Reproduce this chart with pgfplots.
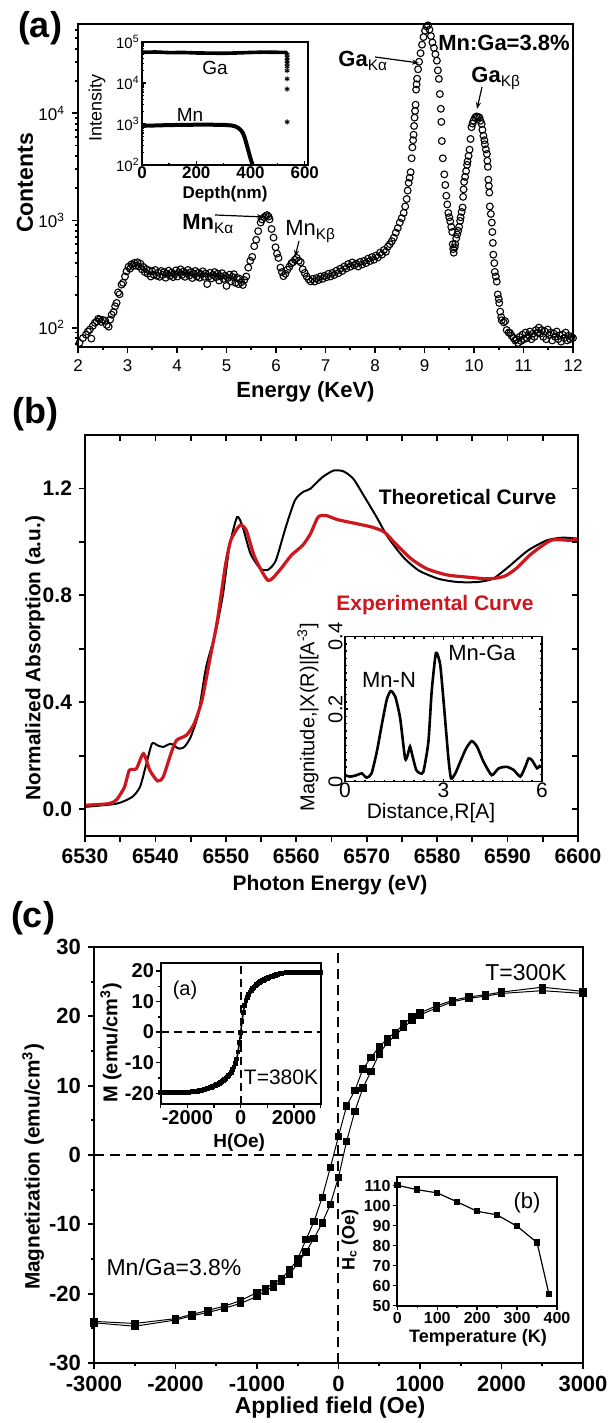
\documentclass[border=0pt]{standalone}
\usepackage{fontspec}
\setmainfont{Liberation Sans}
\usepackage{pgfplots}
\usepackage{pgfplotstable}
\pgfplotsset{compat=1.18}
\usetikzlibrary{arrows.meta}
\definecolor{expred}{RGB}{205,22,30}
\newcommand{\fs}[1]{\fontsize{#1}{#1}\selectfont}
\pgfplotsset{
  base/.style={scale only axis, anchor=south west, clip=true, tick align=outside,
    xtick pos=left, ytick pos=left, axis line style={line width=1.4pt},
    major tick length=3pt, minor tick length=1.7pt,
    tick style={line width=0.9pt, black}},
  inset/.style={base, axis line style={line width=0.9pt}, axis background/.style={fill=white},
    major tick length=2.2pt, minor tick length=1.2pt, tick style={line width=0.7pt, black}}
}
\pgfplotstableread{
E C
2.03 72
2.10 80
2.16 86
2.20 92
2.24 96
2.27 79
2.30 104
2.34 111
2.38 114
2.41 121
2.44 119
2.47 113
2.50 118
2.55 116
2.58 106
2.62 102
2.65 119
2.68 132
2.72 140
2.75 158
2.78 170
2.81 213
2.84 205
2.88 252
2.91 262
2.95 300
2.98 335
3.02 370
3.05 355
3.08 390
3.11 375
3.14 402
3.17 380
3.20 407
3.23 372
3.26 395
3.29 350
3.32 368
3.35 330
3.38 352
3.41 318
3.44 340
3.47 300
3.50 335
3.53 312
3.56 345
3.59 305
3.62 325
3.65 298
3.68 338
3.71 310
3.74 330
3.77 292
3.80 318
3.83 340
3.86 305
3.89 326
3.92 296
3.95 315
3.98 342
4.01 300
4.04 328
4.07 350
4.10 310
4.13 334
4.16 298
4.19 322
4.22 345
4.25 305
4.28 330
4.31 290
4.34 318
4.37 338
4.40 300
4.43 325
4.46 292
4.49 315
4.52 335
4.55 298
4.58 320
4.61 255
4.64 300
4.67 325
4.70 288
4.73 310
4.76 330
4.79 296
4.82 318
4.85 275
4.88 302
4.91 322
4.94 285
4.97 305
5.00 245
5.03 290
5.06 312
5.09 270
5.12 298
5.15 315
5.18 262
5.21 292
5.24 255
5.27 285
5.30 265
5.33 250
5.36 278
5.40 300
5.44 363
5.48 420
5.52 457
5.56 575
5.60 660
5.64 794
5.69 955
5.72 1020
5.76 1070
5.79 1100
5.82 1120
5.85 1085
5.87 1023
5.91 832
5.95 692
5.99 562
6.02 490
6.05 447
6.09 363
6.12 330
6.15 302
6.19 318
6.23 347
6.27 370
6.31 398
6.34 407
6.38 430
6.42 447
6.46 420
6.50 407
6.54 350
6.58 324
6.62 300
6.66 282
6.70 270
6.74 285
6.78 269
6.82 290
6.86 278
6.90 300
6.94 285
6.98 305
7.02 295
7.06 318
7.10 300
7.14 325
7.18 310
7.22 340
7.26 322
7.30 355
7.34 338
7.38 372
7.42 356
7.46 392
7.50 370
7.54 405
7.58 382
7.62 395
7.66 372
7.70 410
7.74 388
7.78 420
7.82 400
7.86 440
7.90 418
7.94 455
7.98 430
8.02 470
8.06 452
8.10 500
8.14 480
8.18 530
8.22 510
8.26 570
8.30 600
8.34 640
8.38 690
8.42 770
8.46 850
8.50 955
8.54 1050
8.58 1175
8.61 1350
8.64 1585
8.66 1900
8.68 2240
8.70 2500
8.72 2820
8.74 3800
8.755 4800
8.77 5600
8.78 6300
8.79 7600
8.80 9100
8.81 10500
8.82 12000
8.83 16600
8.84 18600
8.85 21000
8.87 25700
8.89 30200
8.92 36300
8.95 43600
8.98 51300
9.01 58900
9.04 64600
9.07 66000
9.10 60300
9.13 52500
9.16 45700
9.19 40700
9.22 35500
9.25 30900
9.27 25100
9.29 20900
9.31 15100
9.33 11000
9.34 8300
9.35 5500
9.37 3800
9.40 2690
9.42 2140
9.44 1700
9.46 1410
9.48 1175
9.50 1070
9.52 980
9.54 870
9.56 780
9.57 600
9.58 540
9.59 500
9.61 560
9.62 600
9.64 680
9.66 740
9.68 800
9.70 870
9.72 990
9.73 1070
9.75 1200
9.77 1320
9.78 1660
9.79 1950
9.80 2290
9.82 2550
9.84 2880
9.86 3300
9.87 3550
9.89 4000
9.91 4570
9.93 5750
9.95 7410
9.97 8000
9.99 8510
10.02 9100
10.05 9330
10.08 9250
10.11 9120
10.13 8500
10.155 7940
10.17 7000
10.19 6170
10.21 5600
10.22 5130
10.24 4600
10.26 4170
10.27 3600
10.28 3160
10.29 2400
10.30 2100
10.31 1820
10.32 1350
10.34 1150
10.36 955
10.37 780
10.38 617
10.39 479
10.41 400
10.42 331
10.44 300
10.46 269
10.48 204
10.50 185
10.51 170
10.53 141
10.55 125
10.56 117
10.60 112
10.63 115
10.66 95
10.70 90
10.73 89
10.76 84
10.80 80
10.83 76
10.86 78
10.89 72
10.92 82
10.95 75
10.98 86
11.01 78
11.04 90
11.07 80
11.10 85
11.13 92
11.16 78
11.19 88
11.22 82
11.25 95
11.28 90
11.31 100
11.34 88
11.37 95
11.40 82
11.43 92
11.46 78
11.49 96
11.52 85
11.55 90
11.58 76
11.61 88
11.64 82
11.67 92
11.70 78
11.73 85
11.76 74
11.79 86
11.82 80
11.85 90
11.88 76
11.91 84
11.94 78
11.97 82
12.00 80
}\dataA
\pgfplotstableread{
E T
6530 0.009
6534.5 0.021
6536.7 0.046
6537.8 0.083
6538.6 0.158
6539.5 0.245
6540.3 0.239
6541.1 0.233
6542.2 0.245
6543.3 0.227
6544.1 0.233
6545.0 0.27
6546.1 0.358
6547.2 0.532
6548.5 0.657
6549.6 0.806
6550.5 0.981
6551.6 1.093
6552.4 1.055
6553.5 0.956
6554.9 0.9
6556.0 0.896
6557.1 0.931
6558.5 1.055
6559.8 1.155
6560.9 1.186
6562.0 1.199
6563.7 1.242
6565.3 1.267
6566.7 1.264
6568.1 1.236
6569.7 1.168
6571.4 1.093
6573.0 1.018
6575.2 0.943
6577.4 0.893
6580.2 0.862
6582.9 0.85
6585.7 0.85
6587.9 0.862
6590.1 0.906
6592.9 0.968
6595.6 1.006
6597.8 1.016
6600 1.012
}\dataTheo
\pgfplotstableread{
E X
6530 0.015
6533.4 0.021
6534.5 0.036
6535.6 0.083
6536.3 0.146
6537.3 0.152
6538.3 0.208
6539.2 0.146
6540.3 0.106
6541.1 0.121
6542.2 0.208
6543.0 0.258
6544.4 0.277
6545.5 0.32
6546.6 0.407
6547.7 0.557
6548.8 0.707
6549.9 0.906
6550.7 1.006
6552.0 1.062
6552.9 1.043
6554.1 0.943
6556.0 0.856
6557.6 0.893
6559.3 0.95
6560.9 0.987
6562.0 1.03
6563.1 1.093
6564.2 1.099
6565.9 1.083
6568.6 1.068
6570.8 1.055
6572.5 1.037
6574.1 0.993
6576.3 0.937
6578.5 0.9
6581.3 0.877
6584.0 0.869
6587.3 0.862
6589.5 0.871
6591.2 0.9
6593.4 0.956
6596.2 1.006
6598.9 1.006
6600 1.012
}\dataExp
\pgfplotstableread{
R M
0 0.018
0.15 0.014
0.36 0.018
0.51 0.023
0.66 0.011
0.81 0.023
0.97 0.083
1.12 0.157
1.27 0.226
1.39 0.250
1.53 0.235
1.68 0.175
1.83 0.064
1.91 0.074
1.98 0.097
2.06 0.069
2.17 0.032
2.29 0.023
2.39 0.028
2.54 0.110
2.64 0.249
2.77 0.355
2.90 0.322
3.02 0.203
3.15 0.064
3.23 0.009
3.36 0.023
3.51 0.055
3.69 0.092
3.86 0.112
4.02 0.097
4.22 0.055
4.47 0.018
4.68 0.037
4.93 0.041
5.14 0.032
5.34 0.014
5.49 0.041
5.59 0.064
5.69 0.060
5.85 0.037
5.95 0.046
}\dataR
\pgfplotstableread{
H M
3000 23.6
2500 24.2
2000 23.5
1800 23.1
1600 22.8
1400 22.3
1200 21.5
1000 20.5
900 19.9
800 18.9
700 17.7
600 16.8
500 15.6
400 14.1
300 12.4
200 9.3
100 7.1
0 2.7
-100 -1.8
-200 -6.1
-300 -9.6
-400 -12.2
-500 -15.0
-600 -16.6
-700 -17.8
-800 -18.6
-900 -19.2
-1000 -19.8
-1200 -21.0
-1400 -21.8
-1600 -22.4
-1800 -23.0
-2000 -23.6
-2500 -24.3
-3000 -24.0
}\dataDown
\pgfplotstableread{
H M
-3000 -24.2
-2500 -24.7
-2000 -23.8
-1800 -23.2
-1600 -22.7
-1400 -22.1
-1200 -21.4
-1000 -20.4
-900 -19.6
-800 -19.0
-700 -18.2
-600 -17.2
-500 -15.6
-400 -14.0
-300 -12.0
-200 -9.8
-100 -7.1
0 -3.2
100 2.0
200 6.3
300 9.7
400 12.1
500 14.6
600 16.2
700 17.3
800 18.4
900 19.4
1000 20.2
1200 21.2
1400 22.1
1600 22.6
1800 22.9
2000 23.3
2500 23.7
3000 23.3
}\dataUp
\pgfplotstableread{
H M
-3000 -19.8
-2900 -19.8
-2800 -19.8
-2700 -19.8
-2600 -19.8
-2500 -19.8
-2400 -19.8
-2300 -19.8
-2200 -19.8
-2100 -19.8
-2000 -19.7
-1950 -19.65
-1900 -19.6
-1850 -19.55
-1800 -19.5
-1750 -19.45
-1700 -19.4
-1650 -19.35
-1600 -19.3
-1550 -19.2
-1500 -19.1
-1450 -19.0
-1400 -18.9
-1350 -18.75
-1300 -18.6
-1250 -18.45
-1200 -18.3
-1150 -18.15
-1100 -18.0
-1050 -17.8
-1000 -17.6
-950 -17.4
-900 -17.2
-850 -17.0
-800 -16.8
-750 -16.5
-700 -16.2
-650 -15.9
-600 -15.5
-550 -15.1
-500 -14.7
-450 -14.2
-400 -13.7
-350 -13.1
-300 -12.3
-250 -11.4
-200 -10.3
-150 -8.8
-100 -6.5
-50 -3.5
0 0
50 3.5
100 6.5
150 8.8
200 10.3
250 11.4
300 12.3
350 13.1
400 13.7
450 14.2
500 14.7
550 15.1
600 15.5
650 15.9
700 16.2
750 16.5
800 16.8
850 17.0
900 17.2
950 17.4
1000 17.6
1050 17.8
1100 18.0
1150 18.15
1200 18.3
1250 18.45
1300 18.6
1350 18.75
1400 18.9
1450 19.0
1500 19.1
1550 19.2
1600 19.3
1650 19.35
1700 19.4
1750 19.45
1800 19.5
1850 19.55
1900 19.6
1950 19.6
2000 19.6
2100 19.6
2200 19.6
2300 19.6
2400 19.6
2500 19.6
2600 19.6
2700 19.6
2800 19.6
2900 19.6
3000 19.6
}\dataLow
\begin{document}
\begin{tikzpicture}[x=1pt,y=1pt]
\path[use as bounding box] (0pt,0pt) rectangle (304pt,711.5pt);

% ================= panel (a) =================
\begin{axis}[base, at={(39pt,538pt)}, width=247.5pt, height=161.5pt,
  xmin=2, xmax=12, ymode=log, ymin=66, ymax=68000,
  xtick={2,3,4,5,6,7,8,9,10,11,12}, xticklabels={2,3,4,5,6,7,8,9,10,11,12},
  minor xtick={2.5,3.5,4.5,5.5,6.5,7.5,8.5,9.5,10.5,11.5},
  ytick={100,1000,10000},
  yticklabels={10\textsuperscript{2},10\textsuperscript{3},10\textsuperscript{4}},
  minor ytick={70,80,90,200,300,400,500,600,700,800,900,2000,3000,4000,5000,6000,7000,8000,9000,20000,30000,40000,50000,60000},
  ticklabel style={font=\fs{8.5}}]
\addplot[only marks, mark=o, mark size=1.7pt, mark options={line width=0.55pt, black}] table[x=E, y=C] {\dataA};
\end{axis}

\begin{axis}[inset, at={(71pt,629pt)}, width=83pt, height=61.5pt,
  xmin=0, xmax=612, ymode=log, ymin=100, ymax=100000, tick align=inside,
  xtick={0,200,400,600}, xticklabels={0,200,400,600}, minor xtick={100,300,500},
  ytick={100,1000,10000,100000},
  yticklabels={10\textsuperscript{2},10\textsuperscript{3},10\textsuperscript{4},10\textsuperscript{5}},
  minor ytick={200,300,400,500,600,700,800,900,2000,3000,4000,5000,6000,7000,8000,9000,20000,30000,40000,50000,60000,70000,80000,90000},
  xticklabel style={font=\bfseries\fs{8.5}, inner sep=0.6pt}, yticklabel style={font=\fs{7.5}, inner sep=1pt}]
\addplot[black, line width=1.8pt] coordinates {(0,56000) (50,57000) (100,55000) (150,55500) (200,54000) (250,53500) (300,53000) (350,54000) (400,55500) (450,56500) (500,56000) (530,56000) (535,50000)};
\addplot[only marks, mark=asterisk, mark size=1.3pt, mark options={line width=0.5pt}] coordinates {(535,50000) (535,41700) (535,35500) (535,30200) (535,25100) (535,20000) (535,12600) (535,7100) (535,1120)};
\addplot[black, line width=2pt] coordinates {(0,900) (50,920) (100,940) (150,950) (200,960) (250,960) (300,950) (330,920) (345,870) (355,800) (365,700) (372,600) (378,480) (384,350) (390,250) (396,180) (402,130) (408,100)};
\end{axis}
\node[font=\fs{9.5}] at (107.5,677.5) {Ga};
\node[font=\fs{9.5}] at (95,654) {Mn};
\node[font=\bfseries\fs{8.5}] at (112.5,614.5) {Depth(nm)};
\node[font=\fs{9}, rotate=90] at (48.5,657.5) {Intensity};

\node[font=\bfseries\fs{11}] at (152.75,515.5) {Energy (KeV)};
\node[font=\bfseries\fs{11.5}, rotate=90] at (12.5,620) {Contents};
\node[font=\bfseries\fs{11}] at (252,690) {Mn:Ga=3.8\%};
\node[font=\bfseries\fs{11}, anchor=base west, inner sep=0pt] at (169,678) {Ga\textsubscript{\normalfont Kα}};
\draw[-{Stealth[length=3.5pt,width=2.6pt]}, line width=0.6pt] (187.5,683) -- (209.5,680);
\node[font=\bfseries\fs{11}, anchor=base west, inner sep=0pt] at (235.5,670) {Ga\textsubscript{\normalfont Kβ}};
\draw[-{Stealth[length=3.5pt,width=2.6pt]}, line width=0.6pt] (241,668) -- (238.5,657);
\node[font=\bfseries\fs{11}, anchor=base west, inner sep=0pt] at (91,596.5) {Mn\textsubscript{\normalfont Kα}};
\draw[-{Stealth[length=3.5pt,width=2.6pt]}, line width=0.6pt] (107.5,604) -- (132,603);
\node[font=\fs{11}, anchor=base west, inner sep=0pt] at (142.5,593.5) {Mn\textsubscript{Kβ}};
\draw[-{Stealth[length=3.5pt,width=2.6pt]}, line width=0.6pt] (149.5,591) -- (147.5,583);

\node[font=\bfseries\fs{18}] at (20,697.5) {(a)};
\node[font=\bfseries\fs{18}] at (17.5,504.5) {(b)};
\node[font=\bfseries\fs{18}] at (16.5,252.5) {(c)};

% ================= panel (b) =================
\begin{axis}[base, at={(42.5pt,293.5pt)}, width=246.5pt, height=200.5pt,
  xmin=6530, xmax=6600, ymin=-0.1, ymax=1.4,
  xtick={6530,6535,6540,6545,6550,6555,6560,6565,6570,6575,6580,6585,6590,6595,6600},
  xticklabels={6530,,6540,,6550,,6560,,6570,,6580,,6590,,6600},
  ytick={0,0.2,0.4,0.6,0.8,1.0,1.2}, yticklabels={0.0,,0.4,,0.8,,1.2},
  ticklabel style={font=\bfseries\fs{10.5}}]
\addplot[black, line width=1pt, smooth, tension=0.4] table[x=E, y=T] {\dataTheo};
\addplot[expred, line width=1.6pt, smooth, tension=0.4] table[x=E, y=X] {\dataExp};
\end{axis}
\begin{axis}[base, at={(42.5pt,293.5pt)}, width=246.5pt, height=200.5pt,
  xmin=6530, xmax=6600, ymin=-0.1, ymax=1.4,
  xtick={6530,6535,6540,6545,6550,6555,6560,6565,6570,6575,6580,6585,6590,6595,6600},
  ytick={0,0.2,0.4,0.6,0.8,1.0,1.2}, xticklabels={}, yticklabels={},
  xtick pos=right, ytick pos=right, tick align=inside]
\end{axis}
\node[font=\bfseries\fs{10.5}] at (165,269) {Photon Energy (eV)};
\node[font=\bfseries\fs{10.4}, rotate=90] at (17.5,382.5) {Normalized Absorption (a.u.)};
\node[font=\bfseries\fs{10.5}] at (233.75,463) {Theoretical Curve};
\node[font=\bfseries\fs{10.5}, text=expred] at (217.5,409) {Experimental Curve};

\begin{axis}[inset, at={(172.5pt,320.65pt)}, width=98.5pt, height=72.5pt,
  xmin=0, xmax=6, ymin=0, ymax=0.4,
  xtick={0,3,6}, xticklabels={0,3,6}, ytick={0,0.2,0.4}, yticklabels={0,0.2,0.4},
  minor x tick num=9, minor y tick num=9, xtick pos=both, ytick pos=both, tick align=inside,
  axis line style={line width=0.6pt}, major tick length=1.5pt, minor tick length=1pt,
  tick style={line width=0.8pt, black},
  xticklabel style={font=\fs{10.5}, inner sep=0.5pt}, yticklabel style={font=\fs{10}, rotate=90, anchor=south, inner sep=1pt}]
\addplot[black, line width=1.3pt, smooth, tension=0.35] table[x=R, y=M] {\dataR};
\end{axis}
\node[font=\fs{11}] at (194.5,371.5) {Mn-N};
\node[font=\fs{11}] at (241,385) {Mn-Ga};
\node[font=\fs{10.5}] at (215.5,305) {Distance,R[A]};
\node[font=\fs{10}, rotate=90] at (154,353) {Magnitude,|X(R)|[A\textsuperscript{-3}]};

% ================= panel (c) =================
\begin{axis}[base, at={(47pt,30pt)}, width=244.5pt, height=208pt,
  xmin=-3000, xmax=3000, ymin=-30, ymax=30,
  xtick={-3000,-2000,-1000,0,1000,2000,3000}, xticklabels={-3000,-2000,-1000,0,1000,2000,3000},
  minor xtick={-2500,-1500,-500,500,1500,2500},
  ytick={-30,-20,-10,0,10,20,30}, yticklabels={-30,-20,-10,0,10,20,30},
  minor ytick={-25,-15,-5,5,15,25},
  ticklabel style={font=\bfseries\fs{11}}]
\addplot[black, line width=1pt, dash pattern=on 5pt off 3pt] coordinates {(-3000,0) (3000,0)};
\addplot[black, line width=1pt, dash pattern=on 5pt off 3pt] coordinates {(0,-30) (0,30)};
\addplot[black, line width=0.5pt] table[x=H, y=M] {\dataDown};
\addplot[black, line width=0.5pt] table[x=H, y=M] {\dataUp};
\addplot[only marks, mark=square*, mark size=1.6pt, black] table[x=H, y=M] {\dataDown};
\addplot[only marks, mark=square*, mark size=1.6pt, black] table[x=H, y=M] {\dataUp};
\end{axis}
\node[font=\bfseries\fs{11.5}] at (165,7.5) {Applied field (Oe)};
\node[font=\bfseries\fs{10.4}, rotate=90] at (16.5,128) {Magnetization (emu/cm\textsuperscript{3})};
\node[font=\fs{11.5}] at (263,225) {T=300K};
\node[font=\fs{11.5}] at (87,78) {Mn/Ga=3.8\%};

\begin{axis}[inset, at={(80.35pt,159.5pt)}, width=80pt, height=70.35pt,
  xmin=-3000, xmax=3000, ymin=-23.5, ymax=22.5,
  xtick={-3000,-2000,-1000,0,1000,2000,3000}, xticklabels={,-2000,,0,,2000,},
  ytick={-20,-10,0,10,20}, yticklabels={-20,-10,0,10,20}, minor ytick={-15,-5,5,15},
  ticklabel style={font=\bfseries\fs{10}}, yticklabel style={inner sep=1pt}, xticklabel style={inner sep=1pt}]
\addplot[black, line width=0.8pt, dash pattern=on 4pt off 2.5pt] coordinates {(-3000,0) (3000,0)};
\addplot[black, line width=0.8pt, dash pattern=on 4pt off 2.5pt] coordinates {(0,-23.5) (0,22.5)};
\addplot[black, line width=0.8pt, mark=square*, mark size=0.8pt] table[x=H, y=M] {\dataLow};
\end{axis}
\node[font=\fs{10}] at (92.5,216.5) {(a)};
\node[font=\fs{10.5}] at (140.5,173) {T=380K};
\node[font=\bfseries\fs{10}, rotate=90] at (55.5,190) {M (emu/cm\textsuperscript{3})};
\node[font=\bfseries\fs{9.5}] at (119.6,140) {H(Oe)};

\begin{axis}[inset, at={(198.65pt,58.65pt)}, width=79.85pt, height=64.5pt,
  xmin=0, xmax=400, ymin=50, ymax=114.5,
  xtick={0,100,200,300,400}, xticklabels={0,100,200,300,400}, minor xtick={50,150,250,350},
  ytick={50,60,70,80,90,100,110}, yticklabels={50,60,70,80,90,100,110},
  ticklabel style={font=\bfseries\fs{8}, inner sep=1pt}]
\addplot[black, line width=0.6pt, mark=square*, mark size=1.3pt] coordinates {(0,110.2) (50,108.0) (100,106.4) (150,101.9) (200,97.2) (250,95.4) (300,89.7) (350,81.6) (380,55.7)};
\end{axis}
\node[font=\fs{11}] at (263.5,110) {(b)};
\node[font=\bfseries\fs{9}] at (239,42.5) {Temperature (K)};
\node[font=\bfseries\fs{9}, rotate=90] at (175,91.5) {H\textsubscript{c} (Oe)};
\end{tikzpicture}
\end{document}
